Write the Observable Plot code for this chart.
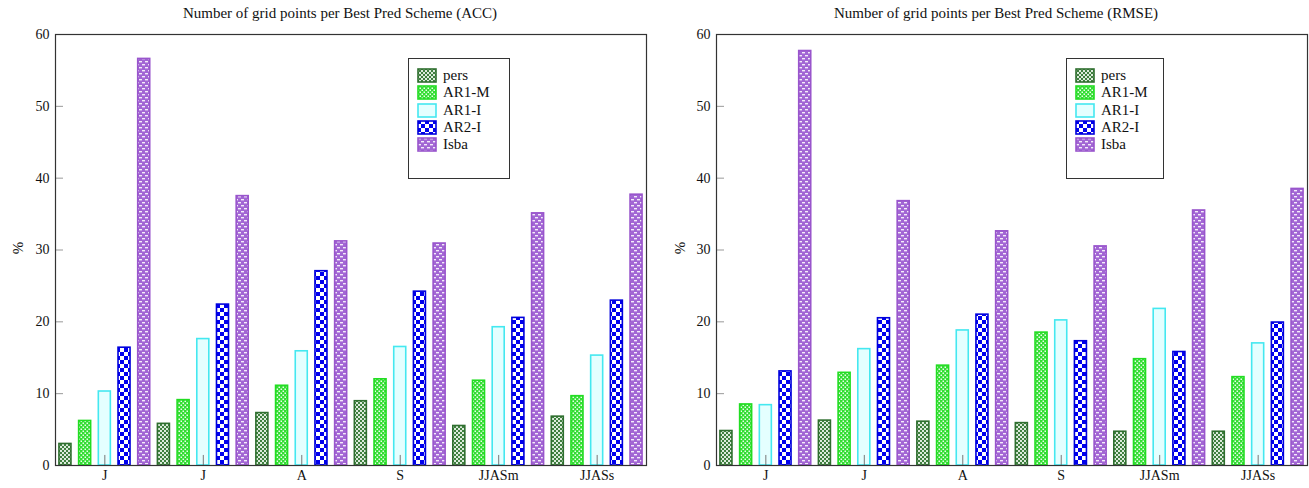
<!DOCTYPE html>
<html><head><meta charset="utf-8">
<script src="https://cdn.jsdelivr.net/npm/d3@7"></script>
<script src="https://cdn.jsdelivr.net/npm/@observablehq/plot@0.6"></script>
<style>
body{margin:0;background:#fff;font-family:"Liberation Serif","DejaVu Serif",serif;color:#111;}
#wrap{position:relative;width:1309px;height:488px;overflow:hidden;}
.panel{position:absolute;top:0;}
.title{position:absolute;top:5px;font-size:15px;white-space:nowrap;transform:translateX(-50%);font-family:"Liberation Serif",serif;}
.ylab{position:absolute;font-size:15px;transform:translate(-50%,-50%) rotate(-90deg);font-family:"Liberation Serif",serif;}
.legend{position:absolute;border:1px solid #333;background:#fff;font-family:"Liberation Serif",serif;}
.entry{position:absolute;left:8px;height:15px;font-size:15px;line-height:15px;white-space:nowrap;}
.entry svg{position:absolute;left:0;top:0;}
.entry span{position:absolute;left:26px;top:0;}
</style></head>
<body>
<svg width="0" height="0" style="position:absolute">
<defs>
  <pattern id="p-pers" width="4" height="4" patternUnits="userSpaceOnUse">
    <rect width="4" height="4" fill="#dcebdc"/>
    <rect x="0" y="0" width="2" height="2" fill="#3f7f3f"/>
    <rect x="2" y="2" width="2" height="2" fill="#3f7f3f"/>
  </pattern>
  <pattern id="p-ar1m" width="4" height="4" patternUnits="userSpaceOnUse">
    <rect width="4" height="4" fill="#33dd33"/>
    <rect x="0.5" y="0.5" width="1.5" height="1.5" fill="#e8ffe8"/>
    <rect x="2.5" y="2.5" width="1.5" height="1.5" fill="#e8ffe8"/>
  </pattern>
  <pattern id="p-ar1i" width="4" height="4" patternUnits="userSpaceOnUse">
    <rect width="4" height="4" fill="#e4ffff"/>
  </pattern>
  <pattern id="p-ar2i" width="8" height="8" patternUnits="userSpaceOnUse">
    <rect width="8" height="8" fill="#ffffff"/>
    <rect x="0" y="0" width="4" height="4" fill="#0000ee"/>
    <rect x="4" y="4" width="4" height="4" fill="#0000ee"/>
  </pattern>
  <pattern id="p-isba" width="6" height="6" patternUnits="userSpaceOnUse">
    <rect width="6" height="6" fill="#a266d4"/>
    <rect x="1" y="1" width="3" height="1.4" fill="#f4ecfa"/>
    <rect x="4" y="4" width="2" height="1.4" fill="#f4ecfa"/>
    <rect x="0" y="4" width="1" height="1.4" fill="#f4ecfa"/>
  </pattern>
</defs>
</svg>
<div id="wrap"></div>
<script>
// ---- data ----
const groups = ["J", "J", "A", "S", "JJASm", "JJASs"];
const schemes = ["pers", "AR1-M", "AR1-I", "AR2-I", "Isba"];
const yTicks = [0, 10, 20, 30, 40, 50, 60];

const accPers = [3.0, 5.8, 7.3, 8.95, 5.5, 6.8];
const accAR1M = [6.2, 9.1, 11.1, 12.0, 11.8, 9.65];
const accAR1I = [10.3, 17.6, 15.9, 16.5, 19.25, 15.3];
const accAR2I = [16.4, 22.4, 27.05, 24.2, 20.55, 22.95];
const accIsba = [56.6, 37.5, 31.2, 30.9, 35.1, 37.7];

const rmsePers = [4.8, 6.25, 6.1, 5.9, 4.7, 4.7];
const rmseAR1M = [8.5, 12.9, 13.9, 18.5, 14.8, 12.3];
const rmseAR1I = [8.4, 16.2, 18.8, 20.2, 21.8, 17.0];
const rmseAR2I = [13.1, 20.5, 21.0, 17.3, 15.8, 19.9];
const rmseIsba = [57.7, 36.8, 32.6, 30.5, 35.5, 38.5];

const titleAcc = "Number of grid points per Best Pred Scheme (ACC)";
const titleRmse = "Number of grid points per Best Pred Scheme (RMSE)";
const yLabel = "%";

// ---- styles ----
const patterns = ["url(#p-pers)", "url(#p-ar1m)", "url(#p-ar1i)", "url(#p-ar2i)", "url(#p-isba)"];
const strokes = ["#2f6f2f", "#22dd22", "#44e8f0", "#0000dd", "#9955cc"];
const strokeOf = Object.fromEntries(schemes.map((s, i) => [s, strokes[i]]));

const wrap = document.getElementById("wrap");

function panel(series, opts) {
  const rows = [];
  groups.forEach((g, i) => schemes.forEach((s, j) => rows.push({key: i + "|" + s, g, s, v: series[j][i]})));
  const keys = rows.map(r => r.key);
  const centers = groups.map((g, i) => i + "|AR1-I");
  const chart = Plot.plot({
    width: opts.width, height: 488,
    marginLeft: opts.mL, marginRight: opts.mR, marginTop: 34, marginBottom: 23,
    style: {fontFamily: "'Liberation Serif', serif", fontSize: "14px", color: "#111", background: "transparent"},
    x: {type: "band", domain: keys, paddingInner: 0.39, paddingOuter: 0.2, round: false, axis: null},
    y: {domain: [0, 60], axis: null},
    color: {domain: schemes, range: patterns},
    marks: [
      Plot.barY(rows, {x: "key", y: "v", fill: "s", stroke: d => strokeOf[d.s], strokeWidth: 1.6}),
      Plot.ruleX(centers, {x: d => d, y1: 0, y2: 1.4, stroke: "#777"}),
      Plot.axisX(centers, {tickSize: 0, tickPadding: 5, label: null, tickFormat: k => groups[+k.split("|")[0]], fontSize: 14}),
      Plot.axisY(yTicks, {tickSize: 0, tickPadding: 6, label: null, fontSize: 14}),
      Plot.axisY(yTicks, {tickSize: -8, label: null, tickFormat: () => "", stroke: "#999"}),
      Plot.frame({stroke: "#333", strokeWidth: 1.2})
    ]
  });
  const box = document.createElement("div");
  box.className = "panel";
  box.style.left = opts.left + "px";
  box.appendChild(chart);
  wrap.appendChild(box);

  const t = document.createElement("div");
  t.className = "title";
  t.style.left = opts.titleX + "px";
  t.textContent = opts.title;
  wrap.appendChild(t);

  const yl = document.createElement("div");
  yl.className = "ylab";
  yl.style.left = opts.ylabX + "px";
  yl.style.top = "248px";
  yl.textContent = yLabel;
  wrap.appendChild(yl);

  const lg = document.createElement("div");
  lg.className = "legend";
  lg.style.left = opts.legX + "px";
  lg.style.top = "58px";
  lg.style.width = opts.legW + "px";
  lg.style.height = "119px";
  schemes.forEach((s, j) => {
    const e = document.createElement("div");
    e.className = "entry";
    e.style.top = (9 + j * 17.3) + "px";
    e.innerHTML = `<svg width="20" height="15"><rect x="1" y="1" width="18" height="13" fill="${patterns[j]}" stroke="${strokes[j]}" stroke-width="1.6"/></svg><span>${s}</span>`;
    lg.appendChild(e);
  });
  wrap.appendChild(lg);
}

panel([accPers, accAR1M, accAR1I, accAR2I, accIsba],
  {left: 0, width: 654, mL: 55, mR: 8, title: titleAcc, titleX: 340, ylabX: 18, legX: 408, legW: 100});
panel([rmsePers, rmseAR1M, rmseAR1I, rmseAR2I, rmseIsba],
  {left: 654, width: 655, mL: 62, mR: 2, title: titleRmse, titleX: 996, ylabX: 680, legX: 1066, legW: 96});
</script>
</body></html>
